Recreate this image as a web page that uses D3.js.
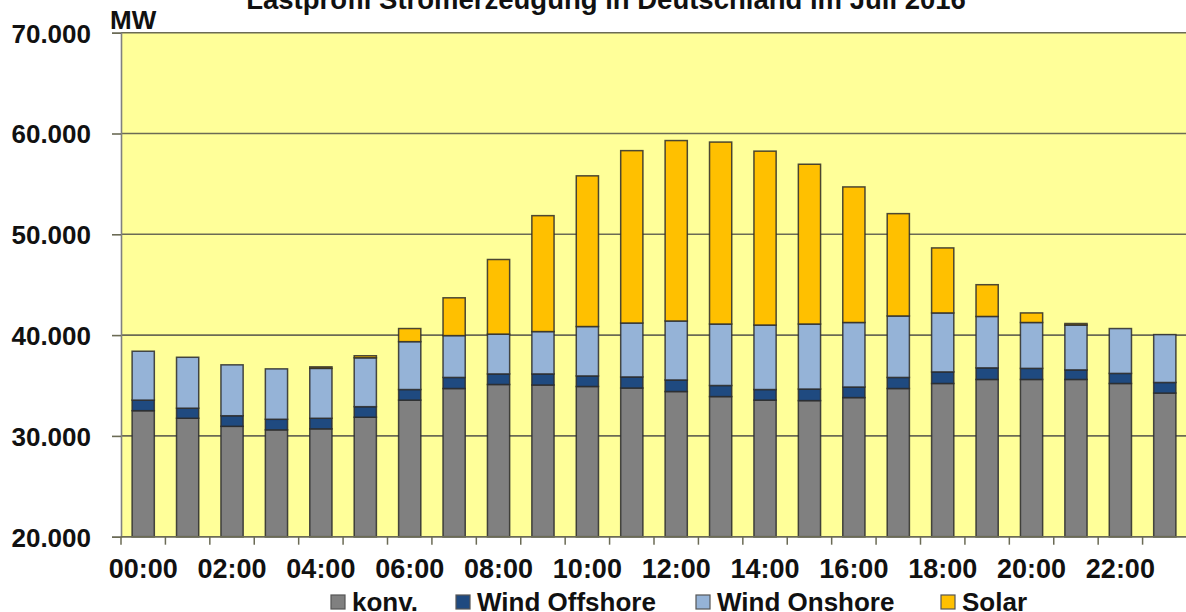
<!DOCTYPE html>
<html>
<head>
<meta charset="utf-8">
<script src="https://cdn.jsdelivr.net/npm/d3@7"></script>
<style>
  html, body { margin: 0; padding: 0; background: #ffffff; }
  svg { display: block; }
  text { font-family: "Liberation Sans", Arial, sans-serif; font-weight: bold; fill: #111; }
</style>
</head>
<body>
<svg id="chart" width="1186" height="612"></svg>
<script>
// Hourly generation profile, Germany, July 2016 (MW)
const hours = ["00:00","01:00","02:00","03:00","04:00","05:00","06:00","07:00","08:00","09:00","10:00","11:00",
               "12:00","13:00","14:00","15:00","16:00","17:00","18:00","19:00","20:00","21:00","22:00","23:00"];
const konv     = [32500, 31750, 30950, 30600, 30700, 31850, 33550, 34700, 35100, 35050, 34900, 34750,
                  34400, 33900, 33550, 33500, 33800, 34700, 35200, 35600, 35600, 35600, 35200, 34250];
const windOff  = [1050, 1000, 1050, 1050, 1050, 1050, 1050, 1100, 1050, 1100, 1050, 1100,
                  1150, 1100, 1050, 1150, 1050, 1100, 1150, 1150, 1100, 950, 1000, 1050];
const windOn   = [4850, 5050, 5050, 5000, 4950, 4850, 4750, 4150, 3950, 4200, 4900, 5350,
                  5850, 6100, 6400, 6450, 6400, 6100, 5850, 5100, 4550, 4450, 4450, 4750];
const solar    = [0, 0, 0, 0, 150, 200, 1300, 3750, 7400, 11500, 14950, 17100,
                  17900, 18050, 17250, 15850, 13450, 10150, 6450, 3150, 950, 150, 0, 0];
const seriesNames = ["konv.", "Wind Offshore", "Wind Onshore", "Solar"];
const yTicks = [20000, 30000, 40000, 50000, 60000, 70000];
const xLabels = ["00:00","02:00","04:00","06:00","08:00","10:00","12:00","14:00","16:00","18:00","20:00","22:00"];
const titleText = "Lastprofil Stromerzeugung in Deutschland im Juli 2016";
const unitText = "MW";

const colors = ["#808080", "#1f4a80", "#95b3d7", "#ffc000"];

const svg = d3.select("#chart");
const plotL = 121, plotR = 1187, plotT = 32.7, plotB = 536.7;

const rows = hours.map((h, i) => ({ hour: h, "konv.": konv[i], "Wind Offshore": windOff[i],
                                    "Wind Onshore": windOn[i], "Solar": solar[i] }));
const stacked = d3.stack().keys(seriesNames)(rows);

const x = d3.scaleBand().domain(hours).range([plotL, plotR]).paddingInner(0.5).paddingOuter(0.25);
const y = d3.scaleLinear().domain([20000, 70000]).range([plotB, plotT]).clamp(true);

const de = d3.formatLocale({ decimal: ",", thousands: ".", grouping: [3], currency: ["", " €"] });
const fmt = de.format(",");

// plot background
svg.append("rect").attr("x", plotL).attr("y", plotT).attr("width", plotR - plotL).attr("height", plotB - plotT)
  .attr("fill", "#ffff99");

// horizontal gridlines
svg.append("g").selectAll("line").data(yTicks).join("line")
  .attr("x1", plotL).attr("x2", plotR)
  .attr("y1", d => y(d)).attr("y2", d => y(d))
  .attr("stroke", "#6b6b55").attr("stroke-width", 1.6);

// stacked bars
const layer = svg.append("g").selectAll("g").data(stacked).join("g")
  .attr("fill", (d, i) => colors[i]);
layer.selectAll("rect").data(d => d.filter(s => s[1] - s[0] > 0)).join("rect")
  .attr("x", d => x(d.data.hour))
  .attr("width", x.bandwidth())
  .attr("y", d => y(d[1]))
  .attr("height", d => y(d[0]) - y(d[1]))
  .attr("stroke", "#2b2b2b").attr("stroke-width", 1.5).attr("stroke-opacity", 0.85);

// y axis
const yAxis = svg.append("g").attr("transform", `translate(${plotL},0)`)
  .call(d3.axisLeft(y).tickValues(yTicks).tickFormat(fmt).tickSize(9).tickPadding(21));
yAxis.select(".domain").attr("stroke", "#808080").attr("stroke-width", 1.6);
yAxis.selectAll(".tick line").attr("stroke", "#6b6b55").attr("stroke-width", 1.6);
yAxis.selectAll(".tick text").attr("font-size", 26).attr("font-family", '"Liberation Sans", Arial, sans-serif')
  .attr("font-weight", "bold").attr("fill", "#111").attr("dy", "0.36em");

// x axis: ticks at hour boundaries, labels every two hours
const xa = svg.append("g");
xa.append("line").attr("x1", plotL).attr("x2", plotR).attr("y1", plotB).attr("y2", plotB)
  .attr("stroke", "#6b6b55").attr("stroke-width", 1.6);
xa.selectAll("line.tk").data(d3.range(hours.length + 1)).join("line").attr("class", "tk")
  .attr("x1", i => i < hours.length ? x(hours[i]) - x.step() * x.paddingOuter() : plotR)
  .attr("x2", i => i < hours.length ? x(hours[i]) - x.step() * x.paddingOuter() : plotR)
  .attr("y1", plotB).attr("y2", plotB + 8)
  .attr("stroke", "#6b6b55").attr("stroke-width", 1.5);
xa.selectAll("text").data(xLabels).join("text")
  .attr("x", d => x(d) + x.bandwidth() / 2)
  .attr("y", 578)
  .attr("text-anchor", "middle").attr("font-size", 27)
  .text(d => d);

// title and unit
svg.append("text").attr("x", 606).attr("y", 9).attr("text-anchor", "middle")
  .attr("font-size", 27.5).text(titleText);
svg.append("text").attr("x", 110).attr("y", 29).attr("font-size", 26).text(unitText);

// legend
const legendX = [331, 456, 696, 941];
const lg = svg.append("g").selectAll("g").data(seriesNames).join("g")
  .attr("transform", (d, i) => `translate(${legendX[i]},0)`);
lg.append("rect").attr("x", 0).attr("y", 595).attr("width", 14).attr("height", 14)
  .attr("fill", (d, i) => colors[i]).attr("stroke", "#555").attr("stroke-width", 1.2);
lg.append("text").attr("x", 21).attr("y", 611).attr("font-size", 26).text(d => d);
</script>
</body>
</html>
